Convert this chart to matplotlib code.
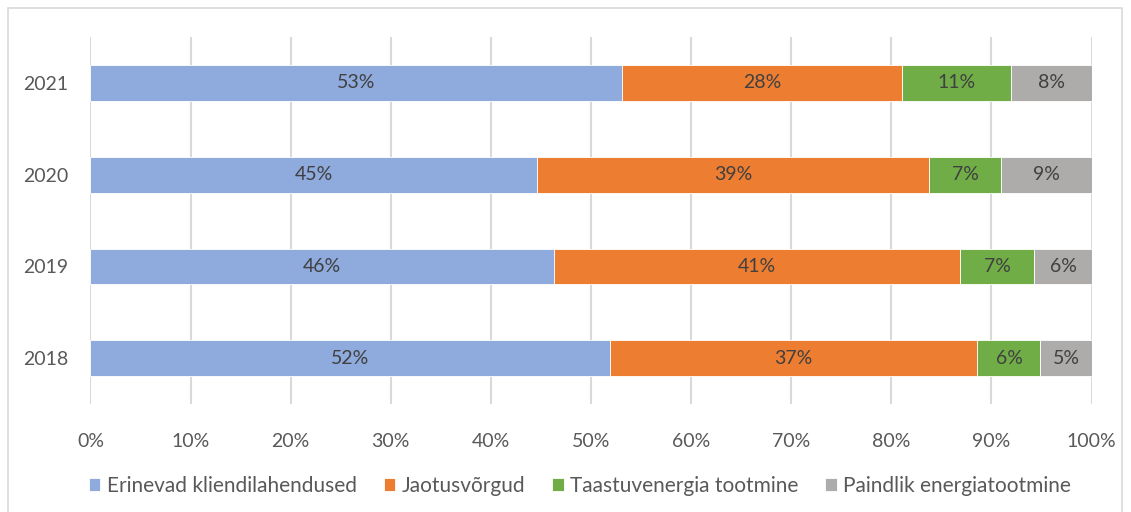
import numpy as np
import matplotlib.pyplot as plt
from matplotlib.patches import Rectangle

plt.rcParams['font.family'] = ['Lato', 'DejaVu Sans']

years = ['2018', '2019', '2020', '2021']
series_names = ['Erinevad kliendilahendused', 'Jaotusvõrgud',
                'Taastuvenergia tootmine', 'Paindlik energiatootmine']
kliendilahendused = [51.9, 46.3, 44.6, 53.1]
jaotusvorgud = [36.7, 40.6, 39.2, 28.0]
taastuvenergia = [6.3, 7.4, 7.2, 10.9]
paindlik = [5.1, 5.7, 9.0, 8.0]
colors = ['#8FAADC', '#ED7D31', '#70AD47', '#AEABAB']

fig = plt.figure(figsize=(11.31, 5.12), dpi=100)
ax = fig.add_axes([0.0800, 0.2109, 0.8851, 0.7168])

# light frame around the whole chart area
fig.patches.append(Rectangle((8 / 1131, -0.05), 1114 / 1131, 1 - 8 / 512 + 0.05,
                             transform=fig.transFigure, fill=False,
                             edgecolor='#D9D9D9', linewidth=1.2))

y = np.arange(len(years))
left = np.zeros(len(years))
for name, vals, c in zip(series_names,
                         [kliendilahendused, jaotusvorgud, taastuvenergia, paindlik],
                         colors):
    bars = ax.barh(y, vals, left=left, height=0.39, color=c, label=name,
                   edgecolor='white', linewidth=0.6, zorder=3)
    for b, v in zip(bars, vals):
        ax.text(b.get_x() + b.get_width() / 2, b.get_y() + b.get_height() / 2,
                '%.0f%%' % v, ha='center', va='center', fontsize=14,
                color='#404040', zorder=4)
    left += np.array(vals)

ax.set_xlim(0, 100)
ax.set_ylim(-0.5, 3.5)
ax.set_xticks(np.arange(0, 101, 10))
ax.set_xticklabels(['%d%%' % t for t in range(0, 101, 10)])
ax.set_yticks(y)
ax.set_yticklabels(years)
ax.tick_params(axis='both', length=0, labelsize=14, labelcolor='#595959')
ax.tick_params(axis='x', pad=21)
ax.tick_params(axis='y', pad=16)
ax.grid(axis='x', color='#D9D9D9', linewidth=1.5, zorder=0)
ax.set_axisbelow(True)
for s in ax.spines.values():
    s.set_visible(False)

fig.legend(loc='center', bbox_to_anchor=(580 / 1131, 1 - 486 / 512), ncol=4,
           frameon=False, fontsize=15, labelcolor='#595959',
           handlelength=0.55, handleheight=0.55, handletextpad=0.3,
           columnspacing=1.3)

fig.savefig('out.png', dpi=100)
